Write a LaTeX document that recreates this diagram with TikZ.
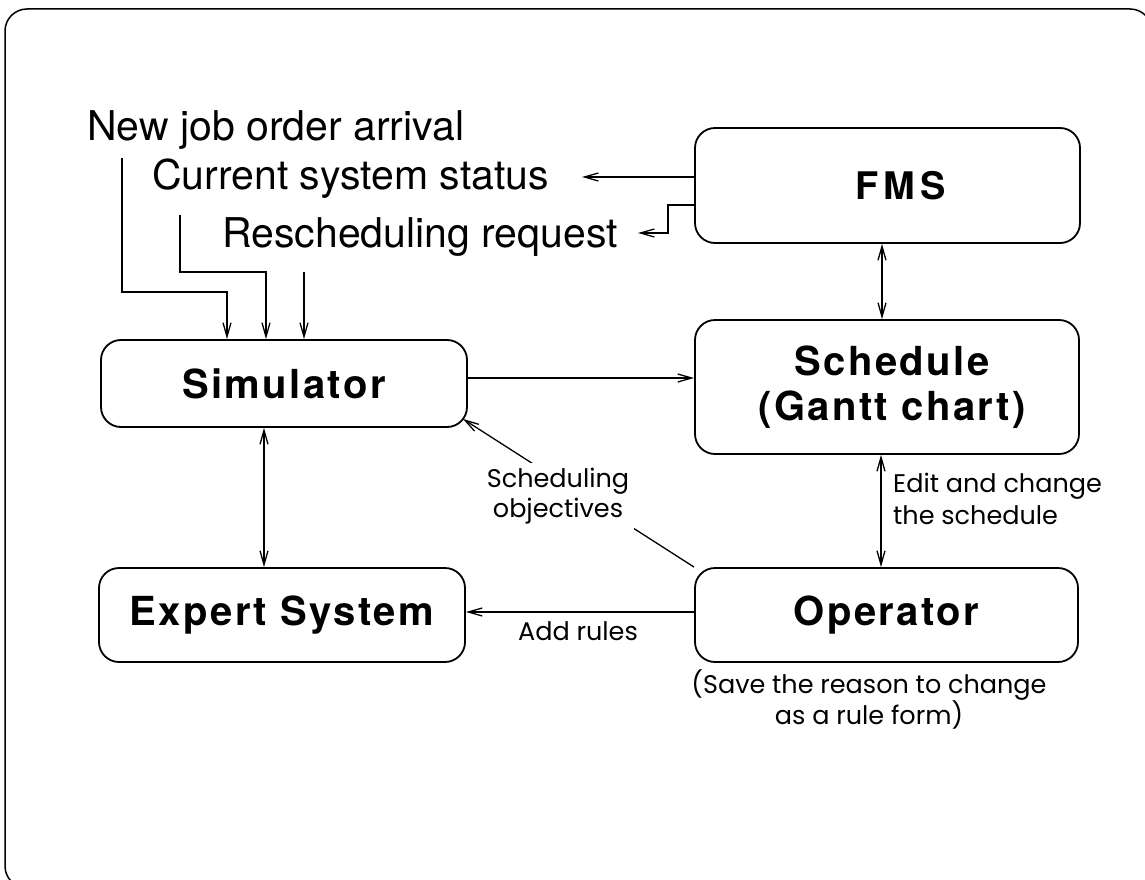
\documentclass[tikz,border=0pt]{standalone}
\usepackage{fontspec}
\setmainfont{TeX Gyre Heros}
\newfontfamily\boxfont[LetterSpace=6]{TeX Gyre Heros}
\newfontfamily\fmsfont[LetterSpace=14]{TeX Gyre Heros}
\newfontfamily\lblfont{Poppins}
\usetikzlibrary{arrows.meta,calc}
\begin{document}
\begin{tikzpicture}[x=1pt,y=-1pt,
  >={Straight Barb[length=14pt,width=8pt,line width=1.3pt]},
  box/.style={draw,line width=1.8pt,rounded corners=20pt,inner sep=0pt},
  boxtext/.style={font=\boxfont\bfseries\fontsize{40}{45}\selectfont,align=center},
  intext/.style={font=\fontsize{41}{45}\selectfont,inner sep=0pt,anchor=base west},
  smalllbl/.style={font=\lblfont\fontsize{25.5}{31}\selectfont,align=center,inner sep=0pt},
  conn/.style={line width=1.3pt,->},
  dconn/.style={line width=1.3pt,<->}]
\useasboundingbox (0,0) rectangle (1145,880);
% outer frame
\draw[line width=1.5pt,rounded corners=22pt] (5,9) rectangle (1152,888);
% boxes
\node[box,boxtext,minimum width=366pt,minimum height=87pt] (sim) at (284,383.5) {Simulator};
\node[box,boxtext,minimum width=366pt,minimum height=94pt] (exp) at (282,615) {Expert System};
\node[box,minimum width=385pt,minimum height=115pt] (fms) at (887.5,185.5) {};
\node[font=\fmsfont\bfseries\fontsize{38}{42}\selectfont,inner sep=0pt] (fmst) at ($(fms.center)+(13,0)$) {FMS};
\node[box,minimum width=384pt,minimum height=134pt] (sch) at (887,387) {};
\node[boxtext,inner sep=0pt] (scht) at ($(sch.center)+(5,0)$) {Schedule\\(Gantt chart)};
\node[box,boxtext,minimum width=383pt,minimum height=94pt] (op) at (886.5,615) {Operator};
% input texts
\node[intext] (nj) at (87,140) {New job order arrival};
\node[intext] (cs) at (152,189) {Current system status};
\node[intext] (rr) at (222,247) {Rescheduling request};
% free ends
\coordinate (nj0) at (122,158);
\coordinate (cs0) at (180,215);
\coordinate (rr0) at (304,272);
\coordinate (cstip) at (582,177);
\coordinate (rrtip) at (638,233);
% inputs to simulator
\draw[conn] (nj0) -- (122,292) -- (227,292) -- (227,0 |- sim.north);
\draw[conn] (cs0) -- (180,272) -- (266,272) -- (266,0 |- sim.north);
\draw[conn] (rr0) -- (304,0 |- sim.north);
% FMS outputs
\draw[conn] (fms.west |- cstip) -- (cstip);
\draw[conn] (fms.west |- 0,205) -- (668,205) -- (668,233) -- (rrtip);
% vertical links
\draw[dconn] ($(fms.south)+(-5.5,0)$) -- ($(sch.north)+(-5,0)$);
\draw[dconn] ($(sch.south)+(-6,0)$) coordinate (a1) -- (a1 |- op.north);
\draw[dconn] ($(sim.south)+(-20,0)$) coordinate (a2) -- (a2 |- exp.north);
% horizontal links
\draw[conn] (sim.east |- 0,378) -- (sch.west |- 0,378);
\draw[conn] (op.west |- 0,612) -- (exp.east |- 0,612);
% scheduling objectives
\draw[conn] (op.north west) -- ($(sim.south east)+(-5,-9)$);
\node[smalllbl,font=\lblfont\fontsize{25.5}{30}\selectfont,fill=white,inner sep=5pt] (so) at (558,496) {Scheduling\\objectives};
% labels
\node[smalllbl,anchor=base] (ar) at (578,640) {Add rules};
\node[smalllbl,font=\lblfont\fontsize{25.5}{32}\selectfont,align=left,anchor=west] (ec) at (893,499) {Edit and change\\the schedule};
\node[smalllbl,font=\lblfont\fontsize{25.5}{28.5}\selectfont,anchor=north] (sv) at (869,669) {(Save the reason to change\\as a rule form)};
\end{tikzpicture}
\end{document}
